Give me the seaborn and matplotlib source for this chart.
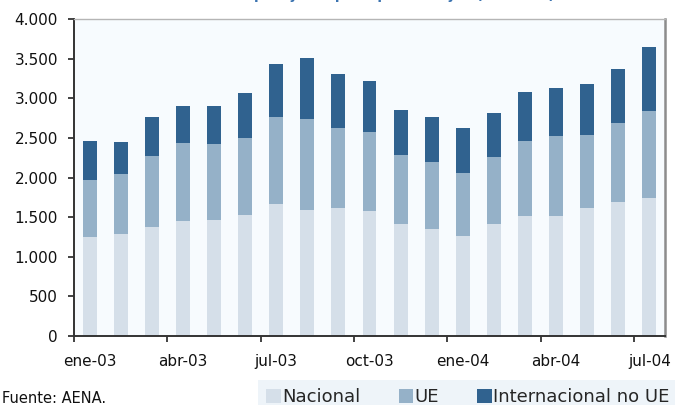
import matplotlib
matplotlib.use("Agg")
import matplotlib.pyplot as plt
import seaborn as sns
import pandas as pd
from matplotlib.patches import Patch
from matplotlib.ticker import FuncFormatter

# Monthly passenger traffic (thousands) by type of flight
meses = ["ene-03", "feb-03", "mar-03", "abr-03", "may-03", "jun-03", "jul-03",
         "ago-03", "sep-03", "oct-03", "nov-03", "dic-03", "ene-04", "feb-04",
         "mar-04", "abr-04", "may-04", "jun-04", "jul-04"]
nacional = [1247, 1285, 1374, 1450, 1463, 1526, 1665, 1589, 1615, 1577,
            1412, 1348, 1260, 1412, 1513, 1513, 1615, 1691, 1742]
ue = [723, 761, 900, 989, 963, 976, 1104, 1154, 1014, 1001,
      875, 850, 799, 849, 951, 1015, 925, 1002, 1103]
internacional = [494, 406, 495, 469, 470, 558, 659, 761, 672, 635,
                 570, 571, 570, 558, 609, 596, 635, 672, 799]
series = ["Nacional", "UE", "Internacional no UE"]
colores = ["#d5dfe9", "#95b1c8", "#30628f"]
titulo = "Número de pasajeros por tipo de viajes (en miles)"
fuente = "Fuente: AENA."

df = pd.DataFrame({"mes": meses, "nac": nacional, "ue": ue, "int": internacional})
df["nivel1"] = df["nac"]
df["nivel2"] = df["nac"] + df["ue"]
df["nivel3"] = df["nivel2"] + df["int"]

sns.set_style("ticks")
plt.rcParams["font.family"] = ["DejaVu Sans"]

fig = plt.figure(figsize=(6.75, 4.05), dpi=100)
ax = fig.add_axes([74 / 675, 69 / 405, 591 / 675, 317 / 405])
ax.set_facecolor("#f7fbfe")

# stacked bars: draw cumulative totals from the top layer down
for col, c in zip(["nivel3", "nivel2", "nivel1"], colores[::-1]):
    sns.barplot(data=df, x="mes", y=col, color=c, saturation=1, width=0.45,
                linewidth=0, ax=ax, order=meses)

ax.set_xlim(-0.5, len(meses) - 0.5)
ax.set_ylim(0, 4000)
ax.set_yticks(range(0, 4001, 500))
ax.yaxis.set_major_formatter(FuncFormatter(lambda v, p: f"{v:,.0f}".replace(",", ".")))
ax.set_xlabel("")
ax.set_ylabel("")

pos = list(range(0, len(meses), 3))
ax.set_xticks(pos)
ax.set_xticklabels([meses[i] for i in pos])
ax.set_xticks([p - 0.5 for p in pos], minor=True)
ax.tick_params(axis="x", which="major", length=0, pad=13, labelsize=11, colors="#111111")
ax.tick_params(axis="x", which="minor", length=4, width=1.2, color="#222222", direction="out")
ax.tick_params(axis="y", length=4.5, width=1.2, pad=7, labelsize=11, colors="#111111")
ax.tick_params(axis="y", color="#222222")

for s in ["left", "bottom"]:
    ax.spines[s].set_color("#333333")
    ax.spines[s].set_linewidth(1.4)
ax.spines["top"].set_color("#b5b5b5")
ax.spines["top"].set_linewidth(1.0)
ax.spines["right"].set_color("#8c8c8c")
ax.spines["right"].set_linewidth(1.8)
ax.grid(False)

handles = [Patch(facecolor=c, edgecolor="none") for c in colores]
fig.legend(handles, series, loc="upper left", bbox_to_anchor=(258 / 675, 1 - 380 / 405),
           ncol=3, frameon=True, facecolor="#eef4f9", edgecolor="none", fancybox=False,
           framealpha=1, fontsize=13, handlelength=0.8, handleheight=0.8,
           handletextpad=0.1, columnspacing=2.1, borderpad=0.45, borderaxespad=0)

fig.text(2 / 675, 2 / 405, fuente, fontsize=10.5, va="baseline", ha="left", color="#111111")
fig.text(359 / 675, 1 + 0.5 / 405, titulo, fontsize=10, fontweight="bold",
         color="#3b73b0", ha="center", va="baseline")

fig.savefig("out.png", dpi=100)
